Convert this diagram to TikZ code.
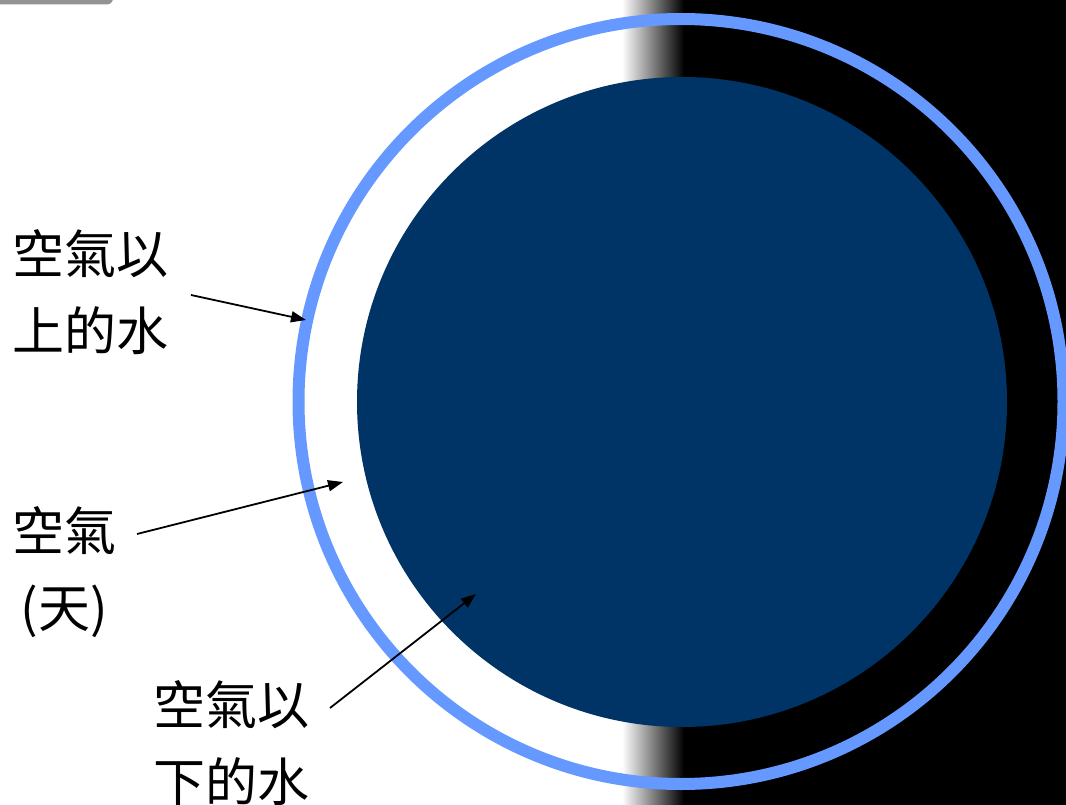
\documentclass[tikz,border=0pt]{standalone}
\usepackage{fontspec}
\newfontfamily\cjk{Noto Sans CJK TC}
\usetikzlibrary{arrows.meta}
\definecolor{navy}{HTML}{003366}
\definecolor{ringblue}{HTML}{6699FF}
\begin{document}
\begin{tikzpicture}[x=1pt,y=-1pt,
  lab/.style={anchor=west,inner sep=0pt,align=left,font=\cjk\fontsize{52}{77}\selectfont},
  pointer/.style={line width=1.8pt,-{Triangle[length=15pt,width=11pt]}}]
\useasboundingbox (0,0) rectangle (1066,805);
\fill[white] (0,0) rectangle (1066,805);
% background: gradient to black on the right
\shade[left color=white,right color=black] (622,0) rectangle (684,805);
\fill[black] (683.5,0) rectangle (1066,805);
% grey tab at top-left
\fill[gray!85!white,rounded corners=6pt] (-20,-20) rectangle (113,4.5);
% circles
\fill[navy] (682,402) circle[radius=325];
\draw[ringblue,line width=12pt] (681,401.5) circle[radius=382.5];
% labels
\node[lab] (above) at (12,292) {空氣以\\上的水};
\node[lab] (air) at (12,572) {空氣\\\,(天)};
\node[lab] (below) at (153,743) {空氣以\\下的水};
% arrow ends
\coordinate (a1s) at (191,295);
\coordinate (a1e) at (306,320);
\coordinate (a2s) at (137,534);
\coordinate (a2e) at (343,482);
\coordinate (a3s) at (330,708);
\coordinate (a3e) at (476,594);
\draw[pointer] (a1s) -- (a1e);
\draw[pointer] (a2s) -- (a2e);
\draw[pointer] (a3s) -- (a3e);
\end{tikzpicture}
\end{document}
